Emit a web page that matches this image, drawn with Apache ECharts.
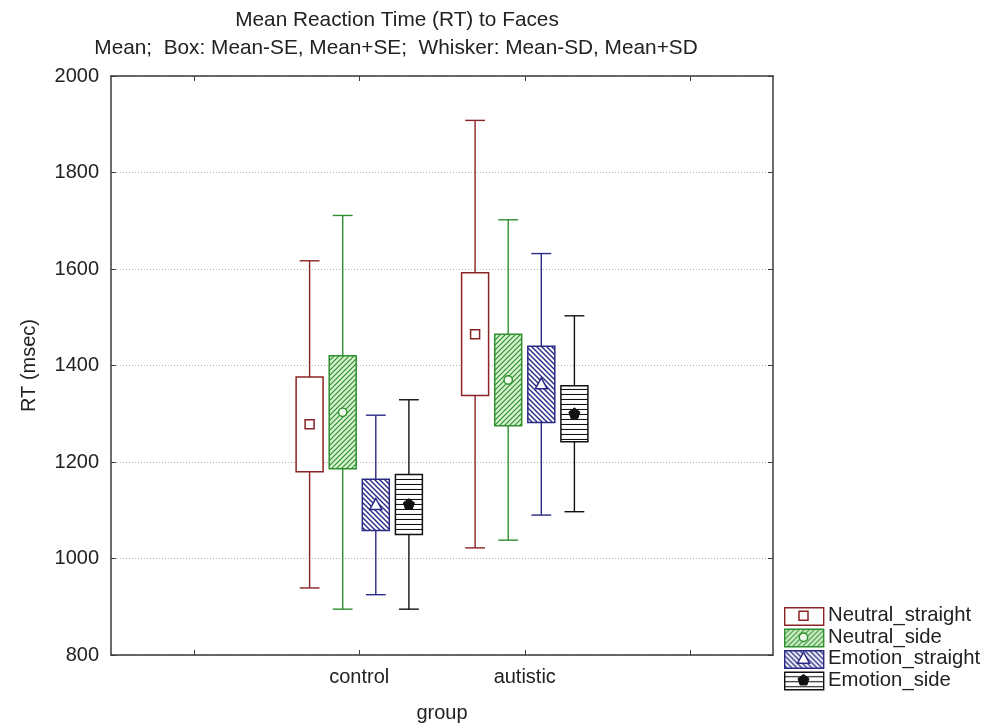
<!DOCTYPE html>
<html>
<head>
<meta charset="utf-8">
<title>Mean Reaction Time (RT) to Faces</title>
<script src="https://cdn.jsdelivr.net/npm/echarts@6/dist/echarts.min.js"></script>
<style>
  html, body { margin: 0; padding: 0; background: #ffffff; }
  #chart { width: 1003px; height: 728px; }
</style>
</head>
<body>
<div id="chart"></div>
<script>
// Groups on the x axis and the four face conditions
const groups = ['control', 'autistic'];
const seriesNames = ['Neutral_straight', 'Neutral_side', 'Emotion_straight', 'Emotion_side'];

// Mean RT, standard error and standard deviation (msec), per group
const meanNeutralStraight = [1278, 1465];
const seNeutralStraight   = [98, 127];
const sdNeutralStraight   = [339, 443];

const meanNeutralSide = [1303, 1370];
const seNeutralSide   = [117, 95];
const sdNeutralSide   = [408, 332];

const meanEmotionStraight = [1111, 1361];
const seEmotionStraight   = [53, 79];
const sdEmotionStraight   = [186, 271];

const meanEmotionSide = [1112, 1300];
const seEmotionSide   = [62, 58];
const sdEmotionSide   = [217, 203];

// Y axis ticks
const yTicks = [800, 1000, 1200, 1400, 1600, 1800, 2000];

const FONT = '"Liberation Sans", Arial, sans-serif';
const TEXT = '#222222';
const FRAME = '#3a3a3a';

// Padded category list so the groups sit in the middle of the frame
const axisCats = [''].concat(groups, ['']);

function hatch(bg, color, kind, size, lw) {
  const c = document.createElement('canvas');
  c.width = size; c.height = size;
  const g = c.getContext('2d');
  g.fillStyle = bg;
  g.fillRect(0, 0, size, size);
  g.strokeStyle = color;
  g.lineWidth = lw;
  g.beginPath();
  if (kind === '/') {
    g.moveTo(-1, size + 1); g.lineTo(size + 1, -1);
    g.moveTo(-1, 1); g.lineTo(1, -1);
    g.moveTo(size - 1, size + 1); g.lineTo(size + 1, size - 1);
  } else if (kind === '\\') {
    g.moveTo(-1, -1); g.lineTo(size + 1, size + 1);
    g.moveTo(size - 1, -1); g.lineTo(size + 1, 1);
    g.moveTo(-1, size - 1); g.lineTo(1, size + 1);
  } else {
    g.moveTo(0, size - 0.5); g.lineTo(size, size - 0.5);
  }
  g.stroke();
  return { image: c, repeat: 'repeat' };
}

const looks = [
  { color: '#8a2424', fill: '#ffffff', marker: 'square' },
  { color: '#2e8f2e', fill: hatch('#d6f2cf', '#2e8f2e', '/', 5, 1.2), marker: 'circle' },
  { color: '#2a2a86', fill: hatch('#ffffff', '#2a2a86', '\\', 5, 1.4), marker: 'triangle' },
  { color: '#111111', fill: hatch('#ffffff', '#111111', '-', 5, 1.1), marker: 'pentagon' }
];

// Horizontal position of each condition inside a group band (fraction of band)
const offsets = [-0.3, -0.1, 0.1, 0.3];
const BOX_W = 0.163;
const CAP_W = 0.12;

function markerShape(kind, cx, cy, color) {
  if (kind === 'square') {
    return { type: 'rect', shape: { x: cx - 4.5, y: cy - 4.5, width: 9, height: 9 },
      style: { fill: '#ffffff', stroke: color, lineWidth: 1.5 } };
  }
  if (kind === 'circle') {
    return { type: 'circle', shape: { cx: cx, cy: cy, r: 4.2 },
      style: { fill: '#eef9ea', stroke: color, lineWidth: 1.4 } };
  }
  if (kind === 'triangle') {
    return { type: 'polygon', shape: { points: [[cx, cy - 6.5], [cx - 6, cy + 4.5], [cx + 6, cy + 4.5]] },
      style: { fill: '#ffffff', stroke: color, lineWidth: 1.5 } };
  }
  const pts = [];
  for (let k = 0; k < 5; k++) {
    const a = (-90 + 72 * k) * Math.PI / 180;
    pts.push([cx + 5.8 * Math.cos(a), cy + 5.8 * Math.sin(a)]);
  }
  return { type: 'polygon', shape: { points: pts }, style: { fill: color, stroke: color, lineWidth: 1 } };
}

function buildData(mean, se, sd) {
  return groups.map((g, i) => [i + 1, mean[i] - sd[i], mean[i] - se[i], mean[i], mean[i] + se[i], mean[i] + sd[i]]);
}

const seriesData = [
  buildData(meanNeutralStraight, seNeutralStraight, sdNeutralStraight),
  buildData(meanNeutralSide, seNeutralSide, sdNeutralSide),
  buildData(meanEmotionStraight, seEmotionStraight, sdEmotionStraight),
  buildData(meanEmotionSide, seEmotionSide, sdEmotionSide)
];

function makeRender(si) {
  const look = looks[si];
  return function (params, api) {
    const cat = api.value(0);
    const band = api.size([1, 0])[0];
    const cx = api.coord([cat, api.value(3)])[0] + offsets[si] * band;
    const y = v => api.coord([cat, v])[1];
    const wLo = y(api.value(1)), bLo = y(api.value(2)), m = y(api.value(3)),
          bHi = y(api.value(4)), wHi = y(api.value(5));
    const bw = BOX_W * band, cw = CAP_W * band;
    const ls = { stroke: look.color, lineWidth: 1.4 };
    return {
      type: 'group',
      children: [
        { type: 'line', shape: { x1: cx, y1: wHi, x2: cx, y2: wLo }, style: ls },
        { type: 'line', shape: { x1: cx - cw / 2, y1: wHi, x2: cx + cw / 2, y2: wHi }, style: ls },
        { type: 'line', shape: { x1: cx - cw / 2, y1: wLo, x2: cx + cw / 2, y2: wLo }, style: ls },
        { type: 'rect', shape: { x: cx - bw / 2, y: bHi, width: bw, height: bLo - bHi },
          style: { fill: look.fill, stroke: look.color, lineWidth: 1.5 } },
        markerShape(look.marker, cx, m, look.color)
      ]
    };
  };
}

// Legend drawn as graphic items: hatched swatch, marker, label
const legendItems = [];
const legendX = 784, legendTop = 607, legendStep = 21.5, swW = 39, swH = 17.5;
seriesNames.forEach((name, i) => {
  const look = looks[i];
  const y0 = legendTop + i * legendStep;
  legendItems.push({ type: 'rect', left: legendX, top: y0, shape: { x: 0, y: 0, width: swW, height: swH },
    style: { fill: look.fill, stroke: look.color, lineWidth: 1.4 } });
  legendItems.push(markerShape(look.marker, legendX + swW / 2, y0 + swH / 2, look.color));
  legendItems.push({ type: 'text', x: 828, y: y0 + swH / 2,
    style: { text: name, font: '20.3px ' + FONT, fill: TEXT, textAlign: 'left', textVerticalAlign: 'middle' } });
});

const chart = echarts.init(document.getElementById('chart'), null, { renderer: 'canvas' });

chart.setOption({
  animation: false,
  backgroundColor: '#ffffff',
  grid: { left: 111, right: 230, top: 76, bottom: 71, containLabel: false },
  graphic: [
    { type: 'text', x: 397, y: 20,
      style: { text: 'Mean Reaction Time (RT) to Faces', font: '20.8px ' + FONT, fill: TEXT,
        textAlign: 'center', textVerticalAlign: 'middle' } },
    { type: 'text', x: 396, y: 48,
      style: { text: 'Mean;  Box: Mean-SE, Mean+SE;  Whisker: Mean-SD, Mean+SD', font: '20.8px ' + FONT, fill: TEXT,
        textAlign: 'center', textVerticalAlign: 'middle' } }
  ].concat(legendItems),
  xAxis: [
    {
      type: 'category', data: axisCats, boundaryGap: true,
      axisLine: { show: true, lineStyle: { color: FRAME, width: 1.5 } },
      axisTick: { show: true, inside: true, alignWithLabel: true, length: 5, lineStyle: { color: FRAME } },
      axisLabel: { interval: 0, fontSize: 20, fontFamily: FONT, color: TEXT, margin: 12 },
      splitLine: { show: false },
      name: 'group', nameLocation: 'middle', nameGap: 48,
      nameTextStyle: { fontSize: 20, fontFamily: FONT, color: TEXT }
    },
    {
      type: 'category', data: axisCats, boundaryGap: true, position: 'top',
      axisLine: { show: true, lineStyle: { color: FRAME, width: 1.5 } },
      axisTick: { show: true, inside: true, alignWithLabel: true, length: 5, lineStyle: { color: FRAME } },
      axisLabel: { show: false },
      splitLine: { show: false }
    }
  ],
  yAxis: [
    {
      type: 'value', min: yTicks[0], max: yTicks[yTicks.length - 1], interval: 200,
      axisLine: { show: true, lineStyle: { color: FRAME, width: 1.5 } },
      axisTick: { show: true, inside: true, length: 5, lineStyle: { color: FRAME } },
      axisLabel: { fontSize: 20, fontFamily: FONT, color: TEXT, margin: 12, formatter: v => String(v) },
      splitLine: { show: true, lineStyle: { color: '#b4b4b4', type: [1, 2], width: 1 } },
      name: 'RT (msec)', nameLocation: 'middle', nameGap: 72, nameRotate: 90,
      nameTextStyle: { fontSize: 20, fontFamily: FONT, color: TEXT }
    },
    {
      type: 'value', position: 'right', min: yTicks[0], max: yTicks[yTicks.length - 1], interval: 200,
      axisLine: { show: true, lineStyle: { color: FRAME, width: 1.5 } },
      axisTick: { show: true, inside: true, length: 5, lineStyle: { color: FRAME } },
      axisLabel: { show: false },
      splitLine: { show: false }
    }
  ],
  series: seriesNames.map((name, si) => ({
    type: 'custom',
    name: name,
    xAxisIndex: 0,
    yAxisIndex: 0,
    renderItem: makeRender(si),
    encode: { x: 0, y: [1, 2, 3, 4, 5] },
    data: seriesData[si],
    z: 5
  }))
});
</script>
</body>
</html>
